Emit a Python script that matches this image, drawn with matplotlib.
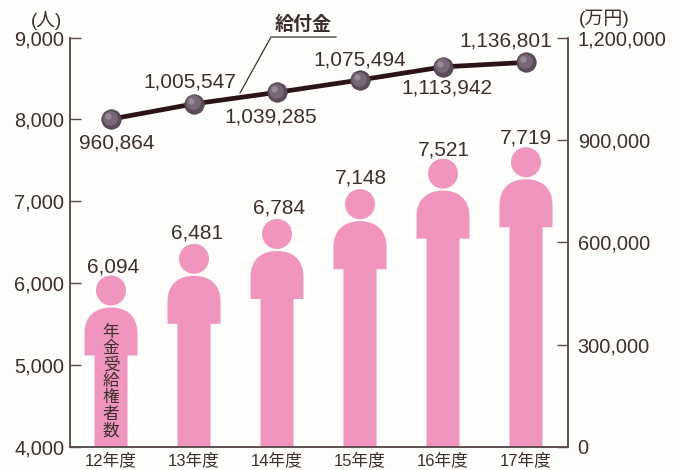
import matplotlib
matplotlib.use("Agg")
import matplotlib.pyplot as plt
from matplotlib.lines import Line2D
from matplotlib.patches import Ellipse, PathPatch
from matplotlib.path import Path
from matplotlib.transforms import offset_copy

plt.rcParams["font.family"] = ["Liberation Sans", "Noto Sans CJK JP"]

years = ["12年度", "13年度", "14年度", "15年度", "16年度", "17年度"]
people_labels = ["6,094", "6,481", "6,784", "7,148", "7,521", "7,719"]
people_heights = [6094, 6481, 6784, 7148, 7521, 7660]
pay_labels = ["960,864", "1,005,547", "1,039,285", "1,075,494", "1,113,942", "1,136,801"]
pay_heights = [960864, 1005547, 1039285, 1075494, 1113942, 1127000]
left_ticks = [4000, 5000, 6000, 7000, 8000, 9000]
right_ticks = [0, 300000, 600000, 900000, 1200000]

# label offsets from the marks, in pixels
people_off = [(2, 9), (3, 11), (2, 11), (1, 11), (1, 9), (0, 9)]
pay_off = [(6, -24), (-4, 22), (-6, -25), (0, 20), (4, -21), (-20, 21)]

INK = "#3d2f30"
AXIS = "#5a4a4c"
PINK = "#f095bd"
W, H = 680, 470
L, R, T, B = 70, 568, 37.5, 447

fig = plt.figure(figsize=(6.8, 4.7), dpi=100, facecolor="#fdfdfb")
ax = fig.add_axes([L / W, 1 - B / H, (R - L) / W, (B - T) / H])
ax.set_facecolor("none")
ax.set_xlim(-0.494, 5.506)
ax.set_ylim(4000, 9000)
ax.set_xticks(range(6))
ax.set_xticklabels(years, fontsize=12, color=INK)
ax.set_yticks(left_ticks)
ax.set_yticklabels([f"{v:,}" for v in left_ticks], fontsize=14.4, color=INK)
ax.tick_params(axis="x", length=0, pad=3.5)
ax.tick_params(axis="y", direction="in", length=8, width=1, color=AXIS, pad=4)
ax.spines["top"].set_visible(False)
for s in ["left", "right", "bottom"]:
    ax.spines[s].set_color(AXIS)
    ax.spines[s].set_linewidth(1.1)

px_x = 6.0 / (R - L)
px_y = 5000 / (B - T)


def person(i, top):
    # head, then a round-shouldered body down to the axis
    ax.add_patch(Ellipse((i, top - 15 * px_y), 30 * px_x, 30 * px_y, color=PINK, lw=0))
    bt = top - 32 * px_y
    sb = top - 80 * px_y
    sh, ws = 26.5 * px_x, 16.5 * px_x
    verts = [(i - ws, 4000), (i - ws, sb), (i - sh, sb), (i - sh, bt - 26 * px_y),
             (i - sh, bt - 8 * px_y), (i - 15 * px_x, bt), (i, bt),
             (i + 15 * px_x, bt), (i + sh, bt - 8 * px_y), (i + sh, bt - 26 * px_y),
             (i + sh, sb), (i + ws, sb), (i + ws, 4000), (i - ws, 4000)]
    codes = [Path.MOVETO, Path.LINETO, Path.LINETO, Path.LINETO,
             Path.CURVE4, Path.CURVE4, Path.CURVE4,
             Path.CURVE4, Path.CURVE4, Path.CURVE4,
             Path.LINETO, Path.LINETO, Path.LINETO, Path.CLOSEPOLY]
    ax.add_patch(PathPatch(Path(verts, codes), facecolor=PINK, lw=0))


for i, v in enumerate(people_heights):
    person(i, v)
    ax.annotate(people_labels[i], (i, v), xytext=people_off[i], textcoords="offset pixels",
                ha="center", va="center", fontsize=15, color=INK)

ax.text(0, 4800, "\n".join("年金受給権者数"), ha="center", va="center", fontsize=12,
        color=INK, linespacing=1.1)

ax2 = ax.twinx()
ax2.set_ylim(0, 1200000)
ax2.set_yticks(right_ticks)
ax2.set_yticklabels([f"{v:,}" for v in right_ticks], fontsize=14.4, color=INK)
ax2.tick_params(axis="y", direction="in", length=8, width=1, color=AXIS, pad=7)
ax2.spines["top"].set_visible(False)
for s in ["left", "right", "bottom"]:
    ax2.spines[s].set_color(AXIS)
    ax2.spines[s].set_linewidth(1.1)

xs = list(range(6))
ax2.plot(xs, pay_heights, color="#2c1318", lw=3.4, solid_capstyle="round", zorder=3)
ax2.plot(xs, pay_heights, "o", ms=14, mfc="#5c4c5a", mec="#4a3b46", mew=0.5, zorder=4)
# soft highlight towards the upper left of each ball
shift = offset_copy(ax2.transData, fig=fig, x=-1, y=1, units="points")
ax2.plot(xs, pay_heights, "o", ms=10.5, mfc="#786876", mec="none", zorder=5, transform=shift)
shift2 = offset_copy(ax2.transData, fig=fig, x=-2, y=2.2, units="points")
ax2.plot(xs, pay_heights, "o", ms=4.5, mfc="#988b97", mec="none", zorder=6, transform=shift2)
for i, v in enumerate(pay_heights):
    ax2.annotate(pay_labels[i], (i, v), xytext=pay_off[i], textcoords="offset pixels",
                 ha="center", va="center", fontsize=15, color=INK, zorder=7)


def px(x, y):
    return x / W, 1 - y / H


fig.add_artist(Line2D(*zip(px(240, 93), px(271, 37), px(336, 37)), color=INK, lw=0.9))
fig.text(*px(303, 25), "給付金", ha="center", va="center", fontsize=13.7, fontweight="bold", color=INK)
fig.text(*px(46, 20), "(人)", ha="center", va="center", fontsize=13.5, color=INK)
fig.text(*px(604, 19), "(万円)", ha="center", va="center", fontsize=13.7, color=INK)

fig.savefig("out.png", dpi=100, facecolor=fig.get_facecolor())
